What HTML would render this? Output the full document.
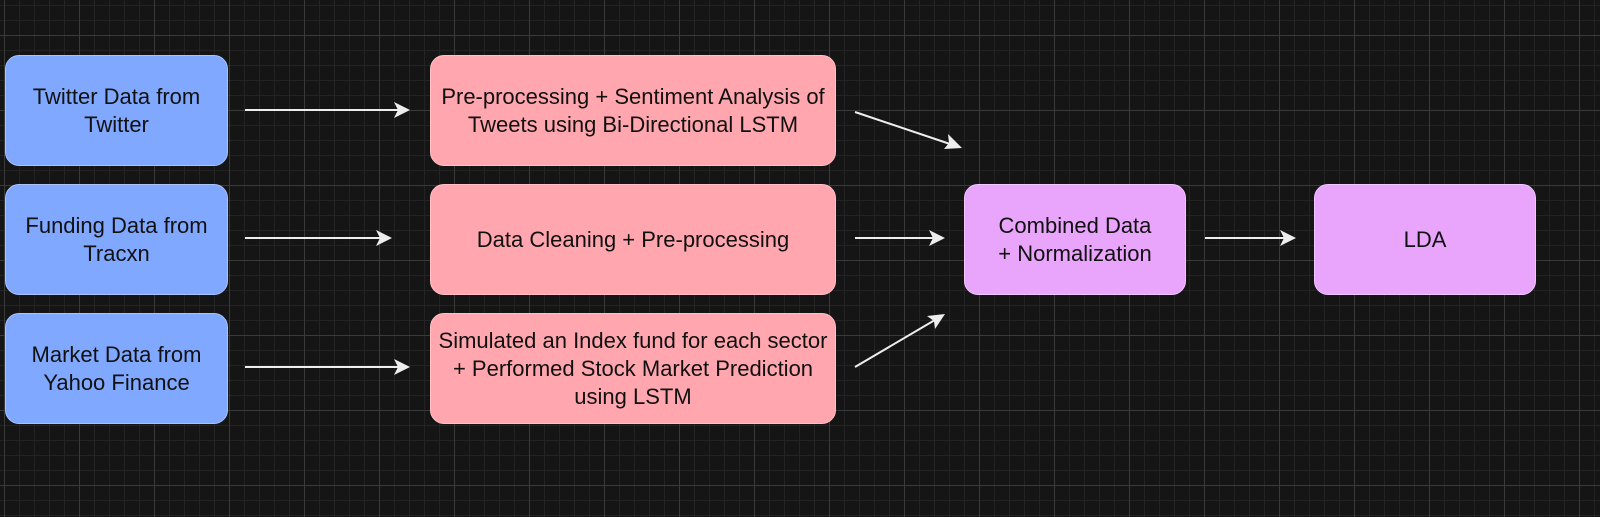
<!DOCTYPE html>
<html><head><style>
body{margin:0;width:1600px;height:517px;overflow:hidden;background:#151515;
background-image:
linear-gradient(#3a3a3a 1px,transparent 1px),linear-gradient(90deg,#3a3a3a 1px,transparent 1px),
linear-gradient(#232323 1px,transparent 1px),linear-gradient(90deg,#232323 1px,transparent 1px);
background-size:75px 75px,75px 75px,15px 15px,15px 15px;
background-position:0 35px,4px 0,0 5px,4px 0;
font-family:"Liberation Sans",sans-serif;position:relative}
.b{position:absolute;border-radius:14px;display:flex;align-items:center;justify-content:center;text-align:center;font-size:22px;line-height:28px;color:#111;box-sizing:border-box}
.bl{background:#80a8ff;border:1.5px solid #a9c3ff;left:5px;width:223px;height:111px}
.pk{background:#ffa6ae;border:1.5px solid #ffc0c6;left:430px;width:406px;height:111px}
.pu{background:#e9a4fb;border:1.5px solid #f3c6ff;width:222px;height:111px;top:184px}
svg{position:absolute;left:0;top:0}
</style></head><body>
<div class="b bl" style="top:55px">Twitter Data from<br>Twitter</div>
<div class="b bl" style="top:184px">Funding Data from<br>Tracxn</div>
<div class="b bl" style="top:313px">Market Data from<br>Yahoo Finance</div>
<div class="b pk" style="top:55px">Pre-processing + Sentiment Analysis of<br>Tweets using Bi-Directional LSTM</div>
<div class="b pk" style="top:184px">Data Cleaning + Pre-processing</div>
<div class="b pk" style="top:313px">Simulated an Index fund for each sector<br>+ Performed Stock Market Prediction<br>using LSTM</div>
<div class="b pu" style="left:964px">Combined Data<br>+ Normalization</div>
<div class="b pu" style="left:1314px">LDA</div>
<svg width="1600" height="517">
<g stroke="#eee" stroke-width="2" fill="none">
<line x1="245" y1="110" x2="404" y2="110"/>
<line x1="245" y1="238" x2="386" y2="238"/>
<line x1="245" y1="367" x2="404" y2="367"/>
<line x1="855" y1="112" x2="956" y2="146"/>
<line x1="855" y1="238" x2="939" y2="238"/>
<line x1="855" y1="367" x2="940" y2="317"/>
<line x1="1205" y1="238" x2="1290" y2="238"/>
</g>
<g fill="#eee">
<path d="M410,110 l-16,-8 l4,8 l-4,8z"/>
<path d="M392,238 l-16,-8 l4,8 l-4,8z"/>
<path d="M410,367 l-16,-8 l4,8 l-4,8z"/>
<path d="M945,238 l-16,-8 l4,8 l-4,8z"/>
<path d="M1296,238 l-16,-8 l4,8 l-4,8z"/>
<path d="M962,148 l-18,1 l5,-6 l-1,-9z"/>
<path d="M945,314 l-10,15 l-1,-8 l-7,-5z"/>
</g>
</svg>
</body></html>
